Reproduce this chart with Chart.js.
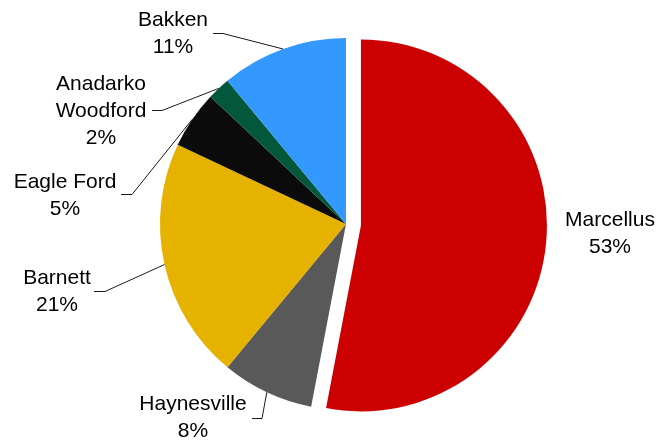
<!DOCTYPE html>
<html>
<head>
<meta charset="utf-8">
<script src="https://cdn.jsdelivr.net/npm/chart.js@4/dist/chart.umd.min.js"></script>
<style>
  html, body { margin: 0; padding: 0; background: #ffffff; }
  #wrap { width: 658px; height: 442px; }
</style>
</head>
<body>
<div id="wrap"><canvas id="pie" width="658" height="442"></canvas></div>
<script>
// Shale plays and their share of production (%)
const plays = ['Marcellus', 'Haynesville', 'Barnett', 'Eagle Ford', 'Anadarko Woodford', 'Bakken'];
const shares = [53, 8, 21, 5, 2, 11];
const sliceColors = ['#CC0000', '#595959', '#E6B200', '#0B0B0B', '#03573A', '#3399FF'];
// Label text lines for each slice
const labelLines = [
  ['Marcellus', '53%'],
  ['Haynesville', '8%'],
  ['Barnett', '21%'],
  ['Eagle Ford', '5%'],
  ['Anadarko', 'Woodford', '2%'],
  ['Bakken', '11%']
];
// How far each slice is pulled out from the centre (px)
const explode = [15, 0, 0, 0, 0, 0];

// Label placement: text centre, first row, and optional leader line
// (leader runs from `from` to `elbow`, then to the slice's outer mid-point)
const labelLayout = [
  { x: 610, y: 220, leader: null },
  { x: 193, y: 404, leader: { from: [252, 418], elbow: [262, 418] } },
  { x: 57,  y: 278, leader: { from: [94, 291],  elbow: [105, 291] } },
  { x: 65,  y: 182, leader: { from: [121, 194], elbow: [132, 194] } },
  { x: 101, y: 84,  leader: { from: [152, 110], elbow: [162, 110] } },
  { x: 173, y: 20,  leader: { from: [213, 33],  elbow: [223, 33] } }
];

// Moves exploded slices outward along their mid-angle
const explodeSlices = {
  id: 'explodeSlices',
  beforeDatasetsDraw(chart) {
    const area = chart.chartArea;
    const cx = (area.left + area.right) / 2;
    const cy = (area.top + area.bottom) / 2;
    chart.getDatasetMeta(0).data.forEach((arc, i) => {
      const d = explode[i] || 0;
      const mid = (arc.startAngle + arc.endAngle) / 2;
      arc.x = cx + Math.cos(mid) * d;
      arc.y = cy + Math.sin(mid) * d;
    });
  }
};

const outsideLabels = {
  id: 'outsideLabels',
  afterDatasetsDraw(chart) {
    const ctx = chart.ctx;
    const arcs = chart.getDatasetMeta(0).data;
    ctx.save();
    ctx.font = '21px "Liberation Sans", Arial, sans-serif';
    ctx.fillStyle = '#000000';
    ctx.textAlign = 'center';
    ctx.textBaseline = 'middle';
    const lineGap = 27;
    labelLines.forEach((lines, i) => {
      const lay = labelLayout[i];
      lines.forEach((t, k) => ctx.fillText(t, lay.x, lay.y + k * lineGap));
      if (lay.leader) {
        const arc = arcs[i];
        const mid = (arc.startAngle + arc.endAngle) / 2;
        const ex = arc.x + Math.cos(mid) * arc.outerRadius;
        const ey = arc.y + Math.sin(mid) * arc.outerRadius;
        ctx.beginPath();
        ctx.strokeStyle = '#1a1a1a';
        ctx.lineWidth = 1;
        ctx.moveTo(lay.leader.from[0], lay.leader.from[1] + 0.5);
        ctx.lineTo(lay.leader.elbow[0], lay.leader.elbow[1] + 0.5);
        ctx.lineTo(ex, ey);
        ctx.stroke();
      }
    });
    ctx.restore();
  }
};

new Chart(document.getElementById('pie'), {
  type: 'pie',
  data: {
    labels: plays,
    datasets: [{
      data: shares,
      backgroundColor: sliceColors,
      borderWidth: 0
    }]
  },
  options: {
    responsive: false,
    animation: false,
    radius: 186,
    layout: { padding: { left: 40, right: 6, top: 20, bottom: 14 } },
    plugins: {
      legend: { display: false },
      tooltip: { enabled: false }
    }
  },
  plugins: [explodeSlices, outsideLabels]
});
</script>
</body>
</html>
